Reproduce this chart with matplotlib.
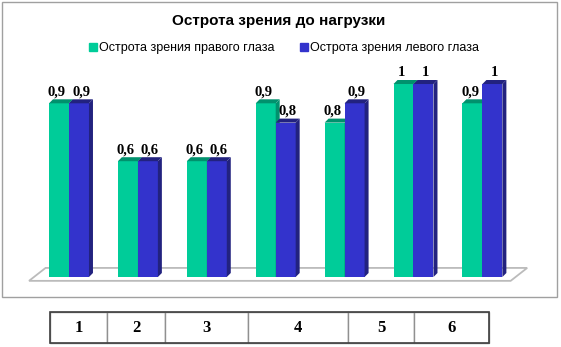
import numpy as np
import matplotlib
matplotlib.use("Agg")
import matplotlib.pyplot as plt
from matplotlib.patches import Polygon, Rectangle
from matplotlib.lines import Line2D
from matplotlib.font_manager import FontProperties

# data
groups = [1, 2, 3, 4, 5, 6, 7]
right_eye = [0.9, 0.6, 0.6, 0.9, 0.8, 1.0, 0.9]
left_eye = [0.9, 0.6, 0.6, 0.8, 0.9, 1.0, 1.0]
series_names = ["Острота зрения правого глаза", "Острота зрения левого глаза"]
title = "Острота зрения до нагрузки"
table_labels = ["1", "2", "3", "4", "5", "6"]
table_widths = [57, 58, 83, 100, 66, 75]

W, H = 561, 347
green, green_dark = "#00CC99", "#00916D"
blue, blue_dark = "#3333CC", "#22227F"


def fx(px):
    return px / W


def fy(py):
    return 1 - py / H


def fmt(v):
    s = "%g" % v
    return s.replace(".", ",")


fig = plt.figure(figsize=(W / 100, H / 100), dpi=100)

# outer chart frame
fig.patches.append(Rectangle((fx(2), fy(297)), fx(555), 295 / H, transform=fig.transFigure,
                             fill=False, edgecolor="#A0A0A0", lw=1))

fig.text(fx(279), fy(21), title, ha="center", va="center", fontsize=11,
         fontweight="bold", family="Liberation Sans")

ax = fig.add_axes([fx(20), fy(290), fx(520), 230 / H])
ax.set_xlim(-0.711, 6.836)
ax.set_ylim(-0.0674, 1.1244)
ax.axis("off")

x = np.arange(len(groups))
w = 0.29
# 3D depth, 4 px each way
ddx = 4 / 68.9
ddy = 4 / 193

# floor
fl, fr = x[0] - 0.58, x[-1] + 0.41
ax.add_patch(Polygon([(fl, -0.02), (fr, -0.02), (fr + 0.24, 0.047), (fl + 0.24, 0.047)],
                     closed=True, facecolor="white", edgecolor="#BBBBBB", lw=1.3, zorder=1))


def bar3d(xl, h, front, dark, z):
    ax.bar(xl, h, w, align="edge", color=front, zorder=z, lw=0)
    xr = xl + w
    ax.add_patch(Polygon([(xl, h), (xr, h), (xr + ddx, h + ddy), (xl + ddx, h + ddy)],
                         closed=True, facecolor=dark, lw=0, zorder=z))
    ax.add_patch(Polygon([(xr, 0), (xr, h), (xr + ddx, h + ddy), (xr + ddx, ddy)],
                         closed=True, facecolor=dark, lw=0, zorder=z))


for i in range(len(groups)):
    z = 2 + i * 2
    bar3d(x[i] - w, right_eye[i], green, green_dark, z)
    bar3d(x[i], left_eye[i], blue, blue_dark, z + 1)
    # green labels lean left, blue ones right, like the original
    for xl, v, sh in [(x[i] - w, right_eye[i], -1.5), (x[i], left_eye[i], 1.5)]:
        ax.annotate(fmt(v), (xl + w / 2, v + ddy), xytext=(sh, 0.5),
                    textcoords="offset points", ha="center", va="bottom",
                    fontsize=10.5, fontweight="bold", family="Liberation Serif", zorder=30)

handles = [Line2D([], [], ls="", marker="s", ms=5.5, color=green),
           Line2D([], [], ls="", marker="s", ms=5.5, color=blue)]
fig.legend(handles, series_names, loc="center", bbox_to_anchor=(fx(284), fy(48)),
           ncol=2, frameon=False, handlelength=0.6, handletextpad=0.2, columnspacing=2.0,
           prop={"family": "Liberation Sans", "size": 9})

# table under the chart
tx = fig.add_axes([fx(50), fy(343), fx(439), 31 / H])
tx.axis("off")
tab = tx.table(cellText=[table_labels], colWidths=[c / sum(table_widths) for c in table_widths],
               cellLoc="center", bbox=[0, 0, 1, 1])
for c in tab.get_celld().values():
    c.set_edgecolor("#909090")
    c.set_linewidth(1)
    c.get_text().set_fontproperties(FontProperties(family="Liberation Serif", weight="bold", size=12))
tx.add_patch(Rectangle((0, 0), 1, 1, transform=tx.transAxes, fill=False,
                       edgecolor="#404040", lw=1.2, clip_on=False))

fig.savefig("out.png", dpi=100)
